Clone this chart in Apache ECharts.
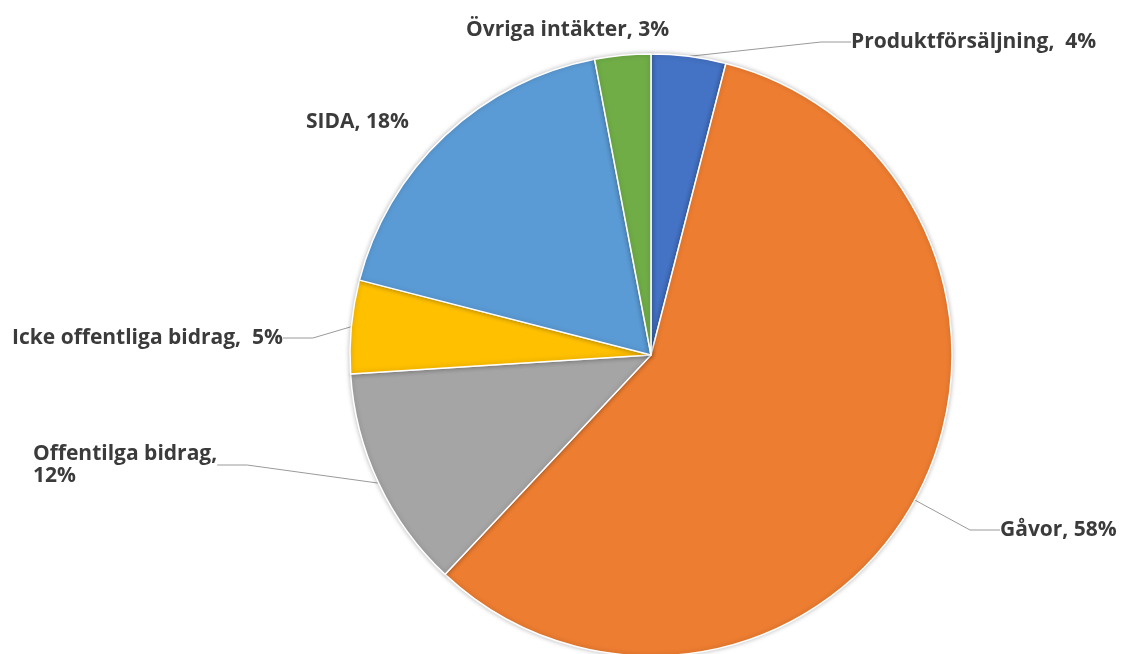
<!DOCTYPE html>
<html>
<head>
<meta charset="utf-8">
<script src="https://cdn.jsdelivr.net/npm/echarts@6/dist/echarts.min.js"></script>
<style>
  html, body { margin: 0; padding: 0; background: #fff; }
  #chart { width: 1127px; height: 654px; }
</style>
</head>
<body>
<div id="chart"></div>
<script>
// data
const categories = ['Produktförsäljning', 'Gåvor', 'Offentilga bidrag', 'Icke offentliga bidrag', 'SIDA', 'Övriga intäkter']
const values = [4, 58, 12, 5, 18, 3]
const labelTexts = ['Produktförsäljning,  4%', 'Gåvor, 58%', 'Offentilga bidrag,\n12%', 'Icke offentliga bidrag,  5%', 'SIDA, 18%', 'Övriga intäkter, 3%']

const colors = ['#4472C4', '#ED7D31', '#A5A5A5', '#FFC000', '#5B9BD5', '#70AD47']
// label anchor (left, middle) per slice
const labelPos = [[851, 42], [1000, 530], [33, 465], [12, 338], [306, 122], [466, 30]]
const showLine = [true, true, true, true, false, false]

const chart = echarts.init(document.getElementById('chart'))
chart.setOption({
  animation: false,
  color: colors,
  series: [{
    type: 'pie',
    center: [651, 355],
    radius: [0, 301],
    startAngle: 90,
    clockwise: true,
    itemStyle: {
      borderColor: '#fff',
      borderWidth: 1.5,
      shadowColor: 'rgba(0,0,0,0.25)',
      shadowBlur: 5
    },
    label: {
      show: true,
      position: 'outside',
      color: '#3b3b3b',
      fontFamily: 'Open Sans',
      fontWeight: 'bold',
      fontSize: 21,
      lineHeight: 22,
      formatter: (p) => labelTexts[p.dataIndex]
    },
    labelLine: {
      lineStyle: { color: '#9a9a9a', width: 1 }
    },
    labelLayout: (params) => ({
      x: labelPos[params.dataIndex][0],
      y: labelPos[params.dataIndex][1],
      align: 'left',
      verticalAlign: 'middle'
    }),
    data: categories.map((name, i) => ({
      name: name,
      value: values[i],
      labelLine: { show: showLine[i] }
    }))
  }]
})
</script>
</body>
</html>
